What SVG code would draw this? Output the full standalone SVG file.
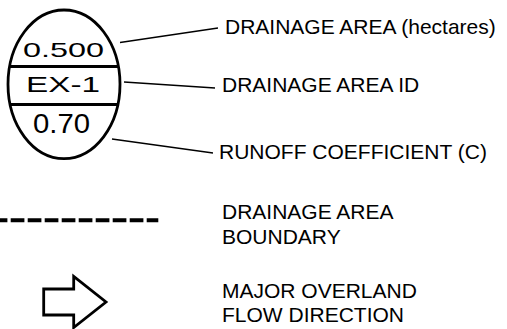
<svg xmlns="http://www.w3.org/2000/svg" width="507" height="329" viewBox="0 0 507 329">
<style>
.bg{fill:#fff}
.sym{fill:none;stroke:#000;stroke-width:2.8}
.lead{fill:none;stroke:#000;stroke-width:1.3}
.t{font-family:"Liberation Sans",Arial,sans-serif;fill:#000}
.lbl{font-size:21px}
</style>
<rect class="bg" x="0" y="0" width="507" height="329"/>
<g id="area-tag">
<ellipse class="sym" cx="64" cy="84.3" rx="56" ry="74.3"/>
<line class="sym" x1="9" y1="66.5" x2="119" y2="66.5"/>
<line class="sym" x1="9" y1="104.5" x2="119" y2="104.5"/>
<text class="t" x="23" y="56.5" font-size="21" textLength="81" lengthAdjust="spacingAndGlyphs">0.500</text>
<text class="t" x="26" y="91.5" font-size="21.5" textLength="74" lengthAdjust="spacingAndGlyphs">EX-1</text>
<text class="t" x="33" y="133" font-size="28" textLength="57" lengthAdjust="spacingAndGlyphs">0.70</text>
</g>
<g id="connectors">
<line class="lead" x1="120" y1="42.5" x2="218" y2="28"/>
<line class="lead" x1="124" y1="82" x2="215" y2="88"/>
<line class="lead" x1="112" y1="139" x2="213" y2="153"/>
</g>
<g id="label-area">
<text class="t lbl" x="225" y="34">DRAINAGE AREA (hectares)</text>
</g>
<g id="label-id">
<text class="t lbl" x="222" y="91.5">DRAINAGE AREA ID</text>
</g>
<g id="label-c">
<text class="t lbl" x="219" y="159">RUNOFF COEFFICIENT (C)</text>
</g>
<g id="boundary">
<path d="M0 220.3 H158.3" fill="none" stroke="#000" stroke-width="4" stroke-dasharray="13.7 3.3" stroke-dashoffset="6.3"/>
<text class="t lbl" x="222" y="219.3">DRAINAGE AREA</text>
<text class="t lbl" x="222" y="244">BOUNDARY</text>
</g>
<g id="flow">
<path class="sym" d="M43.7 289 H73.7 V276.5 L106 302 L73.7 327.5 V315 H43.7 Z" stroke-width="3.2"/>
<text class="t lbl" x="222" y="297.7">MAJOR OVERLAND</text>
<text class="t lbl" x="222" y="322">FLOW DIRECTION</text>
</g>
</svg>
